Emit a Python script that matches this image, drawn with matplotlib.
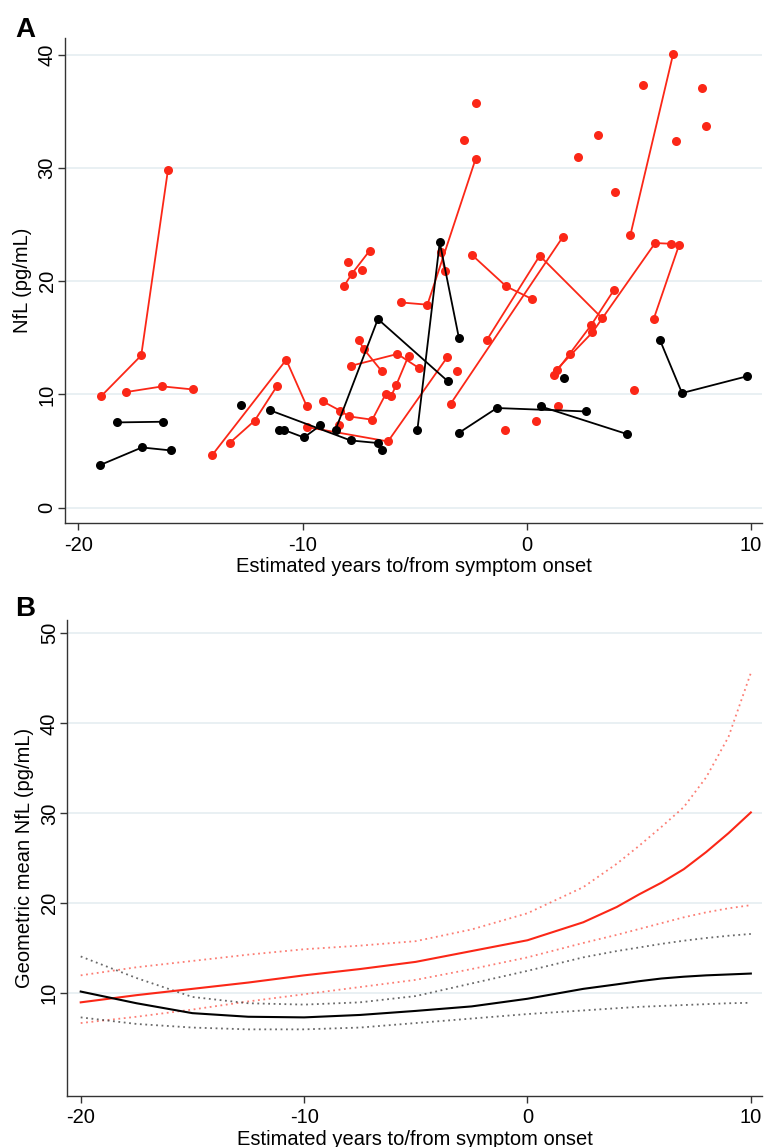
import matplotlib.pyplot as plt

plt.rcParams['font.family'] = ['Liberation Sans', 'DejaVu Sans']
plt.rcParams['axes.unicode_minus'] = False

# ---- panel A: individual NfL trajectories (each inner list = one participant)
red_x = [[-19.00, -17.20, -16.01], [-17.87, -16.26, -14.90], [-14.02, -10.73, -9.81],
         [-13.26, -12.14, -11.15], [-9.81, -6.19, -3.54],
         [-9.09, -8.32, -7.93, -6.89, -6.29, -6.04, -5.82, -5.27],
         [-7.83, -5.77, -4.81], [-7.50, -7.28, -6.46], [-8.16, -7.80, -7.01],
         [-5.63, -4.43, -2.28], [-3.81, -3.66], [-2.42, -0.91, 0.24], [-1.77, 0.58, 3.36],
         [-3.39, 1.61], [1.22, 1.92, 2.89, 3.90], [1.33, 2.93, 5.73, 6.42, 6.80, 5.67],
         [4.63, 6.53]]
red_y = [[9.82, 13.44, 29.77], [10.21, 10.71, 10.44], [4.68, 13.06, 8.94],
         [5.71, 7.68, 10.71], [7.12, 5.85, 13.30],
         [9.38, 8.56, 8.06, 7.77, 10.04, 9.89, 10.83, 13.42],
         [12.53, 13.57, 12.33], [14.83, 14.03, 12.03], [19.53, 20.65, 22.68],
         [18.12, 17.92, 30.78], [22.57, 20.86], [22.27, 19.53, 18.42], [14.83, 22.24, 16.74],
         [9.18, 23.89], [11.74, 13.59, 16.15, 19.24], [12.18, 15.47, 23.36, 23.30, 23.19, 16.68],
         [24.10, 40.01]]
red_single_x = [-2.28, -2.80, -7.98, -7.33, -8.38, -3.09, -0.95, 0.43, 1.40, 4.78,
                5.17, 7.80, 7.98, 6.68, 3.16, 2.29, 3.93]
red_single_y = [35.72, 32.42, 21.69, 21.00, 7.33, 12.03, 6.88, 7.68, 8.94, 10.35,
                37.27, 37.04, 33.65, 32.39, 32.92, 30.92, 27.86]

black_x = [[-18.27, -16.21], [-19.03, -17.17, -15.89], [-11.44, -7.86, -6.64],
           [-10.85, -9.94, -9.21], [-8.53, -6.64, -3.51], [-4.88, -3.88, -3.02],
           [-3.04, -1.33, 2.63], [0.63, 4.48], [5.94, 6.93, 9.81]]
black_y = [[7.53, 7.59], [3.77, 5.32, 5.06], [8.59, 5.94, 5.71],
           [6.88, 6.20, 7.26], [6.88, 16.65, 11.15], [6.82, 23.42, 14.94],
           [6.59, 8.80, 8.50], [8.94, 6.50], [14.83, 10.12, 11.59]]
black_single_x = [-12.74, -11.06, -6.46, 1.68]
black_single_y = [9.09, 6.82, 5.12, 11.41]

# ---- panel B: fitted geometric mean NfL with 95% CI
fit_x = [-20, -17.5, -15, -12.5, -10, -7.5, -5, -2.5, 0, 2.5, 4, 5, 6, 7, 8, 9, 10]
red_fit = [9.0, 9.8, 10.5, 11.2, 12.0, 12.7, 13.5, 14.7, 15.9, 17.9, 19.6, 21.0, 22.3, 23.8, 25.7, 27.8, 30.1]
red_hi = [12.0, 12.9, 13.6, 14.3, 14.9, 15.3, 15.8, 17.1, 18.9, 21.8, 24.4, 26.4, 28.5, 30.7, 34.0, 38.5, 45.6]
red_lo = [6.7, 7.4, 8.2, 9.1, 9.9, 10.7, 11.5, 12.7, 14.0, 15.6, 16.5, 17.15, 17.8, 18.45, 19.0, 19.45, 19.8]
blk_fit = [10.2, 8.9, 7.8, 7.4, 7.33, 7.6, 8.05, 8.55, 9.4, 10.5, 11.0, 11.35, 11.65, 11.85, 12.0, 12.1, 12.2]
blk_hi = [14.1, 11.7, 9.6, 8.9, 8.75, 9.0, 9.7, 11.1, 12.5, 14.0, 14.7, 15.1, 15.5, 15.85, 16.15, 16.4, 16.6]
blk_lo = [7.33, 6.6, 6.2, 6.0, 6.0, 6.2, 6.7, 7.2, 7.7, 8.1, 8.35, 8.5, 8.6, 8.7, 8.8, 8.9, 8.95]

RED = '#fb2717'
GRID = '#e7eff2'
AX = '#333333'

fig = plt.figure(figsize=(7.64, 11.47), dpi=100)
axA = fig.add_axes([0.0851, 0.544, 0.9123, 0.4233])
axB = fig.add_axes([0.0881, 0.0445, 0.9093, 0.4151])


def style(ax):
    for s in ['top', 'right']:
        ax.spines[s].set_visible(False)
    for s in ['left', 'bottom']:
        ax.spines[s].set_color(AX)
        ax.spines[s].set_linewidth(1.0)
    ax.yaxis.grid(True, color=GRID, linewidth=1.3)
    ax.set_axisbelow(True)
    ax.tick_params(direction='out', length=5, width=1, color=AX, labelsize=14.5, pad=4)
    ax.tick_params(axis='y', pad=1)
    ax.set_xlim(-20.6, 10.5)
    ax.set_xticks([-20, -10, 0, 10])
    ax.set_xlabel('Estimated years to/from symptom onset', fontsize=14.5, labelpad=2)
    for lab in ax.get_yticklabels():
        lab.set_rotation(90)
        lab.set_va('center')


for xs, ys in zip(red_x, red_y):
    axA.plot(xs, ys, '-o', color=RED, lw=1.3, ms=6.5, mew=0)
axA.plot(red_single_x, red_single_y, 'o', color=RED, ms=6.5, mew=0)
for xs, ys in zip(black_x, black_y):
    axA.plot(xs, ys, '-o', color='black', lw=1.3, ms=6.5, mew=0)
axA.plot(black_single_x, black_single_y, 'o', color='black', ms=6.5, mew=0)

axA.set_ylim(-1.35, 41.5)
axA.set_yticks([0, 10, 20, 30, 40])
axA.set_ylabel('NfL (pg/mL)', fontsize=14.5, labelpad=4)
style(axA)

axB.plot(fit_x, red_hi, color=RED, lw=1.3, ls=(0, (1, 2)), alpha=0.6)
axB.plot(fit_x, red_lo, color=RED, lw=1.3, ls=(0, (1, 2)), alpha=0.6)
axB.plot(fit_x, blk_hi, color='#444444', lw=1.3, ls=(0, (1, 2)), alpha=0.8)
axB.plot(fit_x, blk_lo, color='#444444', lw=1.3, ls=(0, (1, 2)), alpha=0.8)
axB.plot(fit_x, red_fit, color=RED, lw=1.5)
axB.plot(fit_x, blk_fit, color='black', lw=1.5)

axB.set_ylim(-1.4, 51.5)
axB.set_yticks([10, 20, 30, 40, 50])
axB.set_ylabel('Geometric mean NfL (pg/mL)', fontsize=14.5, labelpad=4)
style(axB)

fig.text(25 / 764, 1 - 30 / 1147, 'A', fontsize=20, fontweight='bold', ha='center', va='center')
fig.text(25 / 764, 1 - 609 / 1147, 'B', fontsize=20, fontweight='bold', ha='center', va='center')

fig.savefig('out.png', dpi=100)
